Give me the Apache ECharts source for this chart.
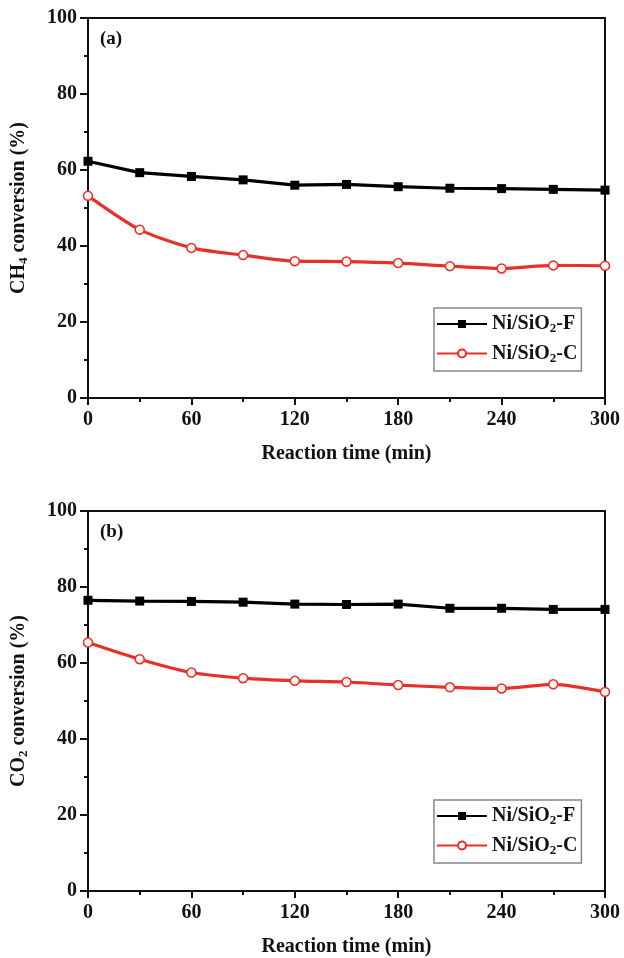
<!DOCTYPE html>
<html>
<head>
<meta charset="utf-8">
<script src="https://cdn.jsdelivr.net/npm/echarts@6/dist/echarts.min.js"></script>
<style>
html,body{margin:0;padding:0;background:#fff;}
#chart{width:624px;height:958px;}
</style>
</head>
<body>
<div id="chart"></div>
<script>
const times = [0, 30, 60, 90, 120, 150, 180, 210, 240, 270, 300];
const ch4F = [62.3, 59.3, 58.3, 57.4, 56.0, 56.2, 55.6, 55.2, 55.1, 54.9, 54.7];
const ch4C = [53.2, 44.3, 39.5, 37.6, 36.0, 35.9, 35.5, 34.7, 34.1, 34.9, 34.8];
const co2F = [76.5, 76.3, 76.2, 76.0, 75.5, 75.4, 75.5, 74.4, 74.4, 74.1, 74.1];
const co2C = [65.4, 61.0, 57.5, 56.0, 55.3, 55.0, 54.2, 53.6, 53.3, 54.4, 52.4];
const xTicks = [0, 60, 120, 180, 240, 300];
const yTicks = [0, 20, 40, 60, 80, 100];
const seriesNames = ['Ni/SiO2-F', 'Ni/SiO2-C'];

const FONT = 'Liberation Serif';
const FS = 20;
const subStyle = {fontFamily: FONT, fontWeight: 'bold', fontSize: 13, color: '#111', padding: [10, 0, 0, 0], verticalAlign: 'bottom'};
const mainRich = {fontFamily: FONT, fontWeight: 'bold', fontSize: FS, color: '#111'};

function pairs(vals) { return times.map((t, i) => [t, vals[i]]); }

const grids = [
  {left: 88, right: 19, top: 18, height: 380},
  {left: 88, right: 19, top: 511, height: 380}
];

function xAxis(gi) {
  return {
    gridIndex: gi, type: 'value', min: 0, max: 300, interval: 60,
    name: 'Reaction time (min)', nameLocation: 'middle', nameGap: 46,
    nameTextStyle: {fontFamily: FONT, fontWeight: 'bold', fontSize: FS, color: '#111'},
    axisLine: {onZero: false, lineStyle: {color: '#111', width: 2}},
    axisTick: {show: true, inside: false, length: 7, lineStyle: {color: '#111', width: 2}},
    minorTick: {show: true, splitNumber: 2, length: 4, lineStyle: {color: '#111', width: 2}},
    splitLine: {show: false},
    axisLabel: {fontFamily: FONT, fontWeight: 'bold', fontSize: FS, color: '#111', margin: 12,
      formatter: v => xTicks.includes(v) ? String(v) : ''}
  };
}
function yAxis(gi, gas, sub) {
  return {
    gridIndex: gi, type: 'value', min: 0, max: 100, interval: 20,
    name: gas + '{sub|' + sub + '}{m| conversion (%)}', nameLocation: 'middle', nameGap: 58,
    nameTextStyle: {fontFamily: FONT, fontWeight: 'bold', fontSize: FS, color: '#111',
      rich: {sub: subStyle, m: mainRich}},
    axisLine: {lineStyle: {color: '#111', width: 2}},
    axisTick: {show: true, inside: false, length: 8, lineStyle: {color: '#111', width: 2}},
    minorTick: {show: true, splitNumber: 2, length: 4, lineStyle: {color: '#111', width: 2}},
    splitLine: {show: false},
    axisLabel: {fontFamily: FONT, fontWeight: 'bold', fontSize: FS, color: '#111', margin: 11,
      formatter: v => yTicks.includes(v) ? String(v) : ''}
  };
}
function boxX(gi) {
  return {gridIndex: gi, type: 'value', position: 'top', min: 0, max: 300,
    axisLine: {onZero: false, lineStyle: {color: '#111', width: 2}}, axisTick: {show: false}, axisLabel: {show: false}, splitLine: {show: false}};
}
function boxY(gi) {
  return {gridIndex: gi, type: 'value', position: 'right', min: 0, max: 100,
    axisLine: {onZero: false, lineStyle: {color: '#111', width: 2}}, axisTick: {show: false}, axisLabel: {show: false}, splitLine: {show: false}};
}

function lineF(name, xi, yi, data) {
  return {name: name, type: 'line', xAxisIndex: xi, yAxisIndex: yi, data: pairs(data),
    symbol: 'rect', symbolSize: 9, lineStyle: {color: '#000', width: 3.2},
    itemStyle: {color: '#000', borderColor: '#000', borderWidth: 0}, z: 3};
}
function lineC(name, xi, yi, data) {
  return {name: name, type: 'line', xAxisIndex: xi, yAxisIndex: yi, data: pairs(data),
    smooth: 0.25, symbol: 'circle', symbolSize: 9, showAllSymbol: true,
    lineStyle: {color: '#e8302a', width: 3.2},
    itemStyle: {color: '#fff4f0', borderColor: '#e8302a', borderWidth: 1.5}, z: 2};
}

function legend(top) {
  return {
    left: 434, top: top, orient: 'vertical', data: seriesNames,
    backgroundColor: '#fff', borderColor: '#888', borderWidth: 1.5,
    padding: [6, 4, 6, 2], itemGap: 8, itemWidth: 50, itemHeight: 10,
    selectedMode: false,
    formatter: n => n.replace('SiO2', 'SiO{sub|2}{m|').concat('}'),
    textStyle: {fontFamily: FONT, fontWeight: 'bold', fontSize: FS, color: '#111',
      rich: {sub: subStyle, m: mainRich}}
  };
}

const chart = echarts.init(document.getElementById('chart'), null, {renderer: 'canvas'});
chart.setOption({
  backgroundColor: '#fff',
  animation: false,
  title: [
    {text: '(a)', left: 95, top: 25, textStyle: {fontFamily: FONT, fontWeight: 'bold', fontSize: 19, color: '#111'}},
    {text: '(b)', left: 95, top: 518, textStyle: {fontFamily: FONT, fontWeight: 'bold', fontSize: 19, color: '#111'}}
  ],
  grid: grids,
  xAxis: [xAxis(0), xAxis(1), boxX(0), boxX(1)],
  yAxis: [yAxis(0, 'CH', '4'), yAxis(1, 'CO', '2'), boxY(0), boxY(1)],
  legend: [legend(308), legend(800)],
  series: [
    lineF(seriesNames[0], 0, 0, ch4F),
    lineC(seriesNames[1], 0, 0, ch4C),
    lineF(seriesNames[0], 1, 1, co2F),
    lineC(seriesNames[1], 1, 1, co2C)
  ]
});
</script>
</body>
</html>
